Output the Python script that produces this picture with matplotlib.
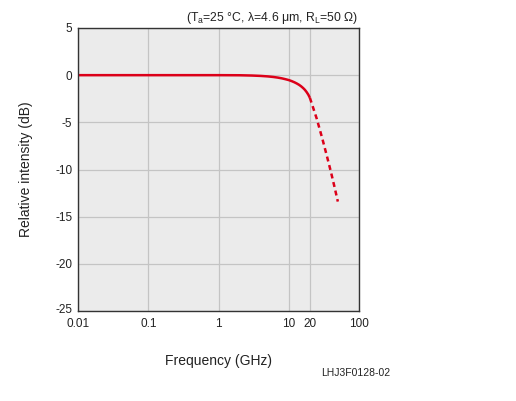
import matplotlib.pyplot as plt
import matplotlib.transforms as mtransforms
import numpy as np

plt.rcParams['font.family'] = ['Liberation Sans', 'DejaVu Sans']
plt.rcParams['axes.unicode_minus'] = False

# frequency response (GHz, dB)
freq_solid = [0.01, 0.1, 1, 2, 3, 4, 5, 6, 7, 8, 9, 10, 11, 12, 13, 14, 15, 16, 17, 18, 19, 20]
gain_solid = [0, 0, 0, -0.01, -0.04, -0.08, -0.13, -0.19, -0.26, -0.34, -0.43, -0.52,
              -0.63, -0.75, -0.88, -1.02, -1.18, -1.36, -1.56, -1.8, -2.07, -2.4]
freq_dash = [20, 25, 30, 35, 40, 45, 50]
gain_dash = [-2.4, -4.6, -6.7, -8.6, -10.3, -11.9, -13.4]

xticks = [0.01, 0.1, 1, 10, 20, 100]
xticklabels = ["0.01", "0.1", "1", "10", "20", "100"]
yticks = [5, 0, -5, -10, -15, -20, -25]

fig = plt.figure(figsize=(5.16, 4.01), dpi=100)
ax = fig.add_axes([0.1512, 0.2244, 0.5445, 0.7058])
ax.set_facecolor("#ebebeb")

ax.plot(freq_solid, gain_solid, color="#dc0019", lw=1.8, solid_capstyle="butt")
ax.plot(freq_dash, gain_dash, color="#dc0019", lw=1.8, ls=(0, (2.0, 1.5)))

ax.set_xscale("log")
ax.set_xlim(0.01, 100)
ax.set_ylim(-25, 5)
ax.set_xticks(xticks)
ax.set_xticklabels(xticklabels)
ax.xaxis.set_minor_locator(plt.NullLocator())
ax.set_yticks(yticks)
ax.tick_params(length=0, labelsize=8.5, colors="#222222")
ax.tick_params(axis="x", pad=5)
ax.tick_params(axis="y", pad=4)
# the bottom y label sits a little higher in the reference
lab = ax.get_yticklabels()[-1]
lab.set_transform(lab.get_transform() + mtransforms.ScaledTranslation(0, 2 / 72, fig.dpi_scale_trans))
ax.grid(True, color="#c4c4c4", lw=0.9)
ax.set_axisbelow(True)
for s in ax.spines.values():
    s.set_color("#333333")
    s.set_linewidth(1.0)

ax.set_xlabel("Frequency (GHz)", fontsize=10, labelpad=17, color="#222222")
ax.set_ylabel("Relative intensity (dB)", fontsize=10, labelpad=16, color="#222222")

fig.text(0.695, 0.955, r"(T$_\mathregular{a}$=25 °C, λ=4.6 μm, R$_\mathregular{L}$=50 Ω)",
         ha="right", va="center", fontsize=8.8, color="#222222")
fig.text(0.757, 0.07, "LHJ3F0128-02", ha="right", va="center", fontsize=7.5, color="#222222")

plt.savefig("out.png", dpi=100)
